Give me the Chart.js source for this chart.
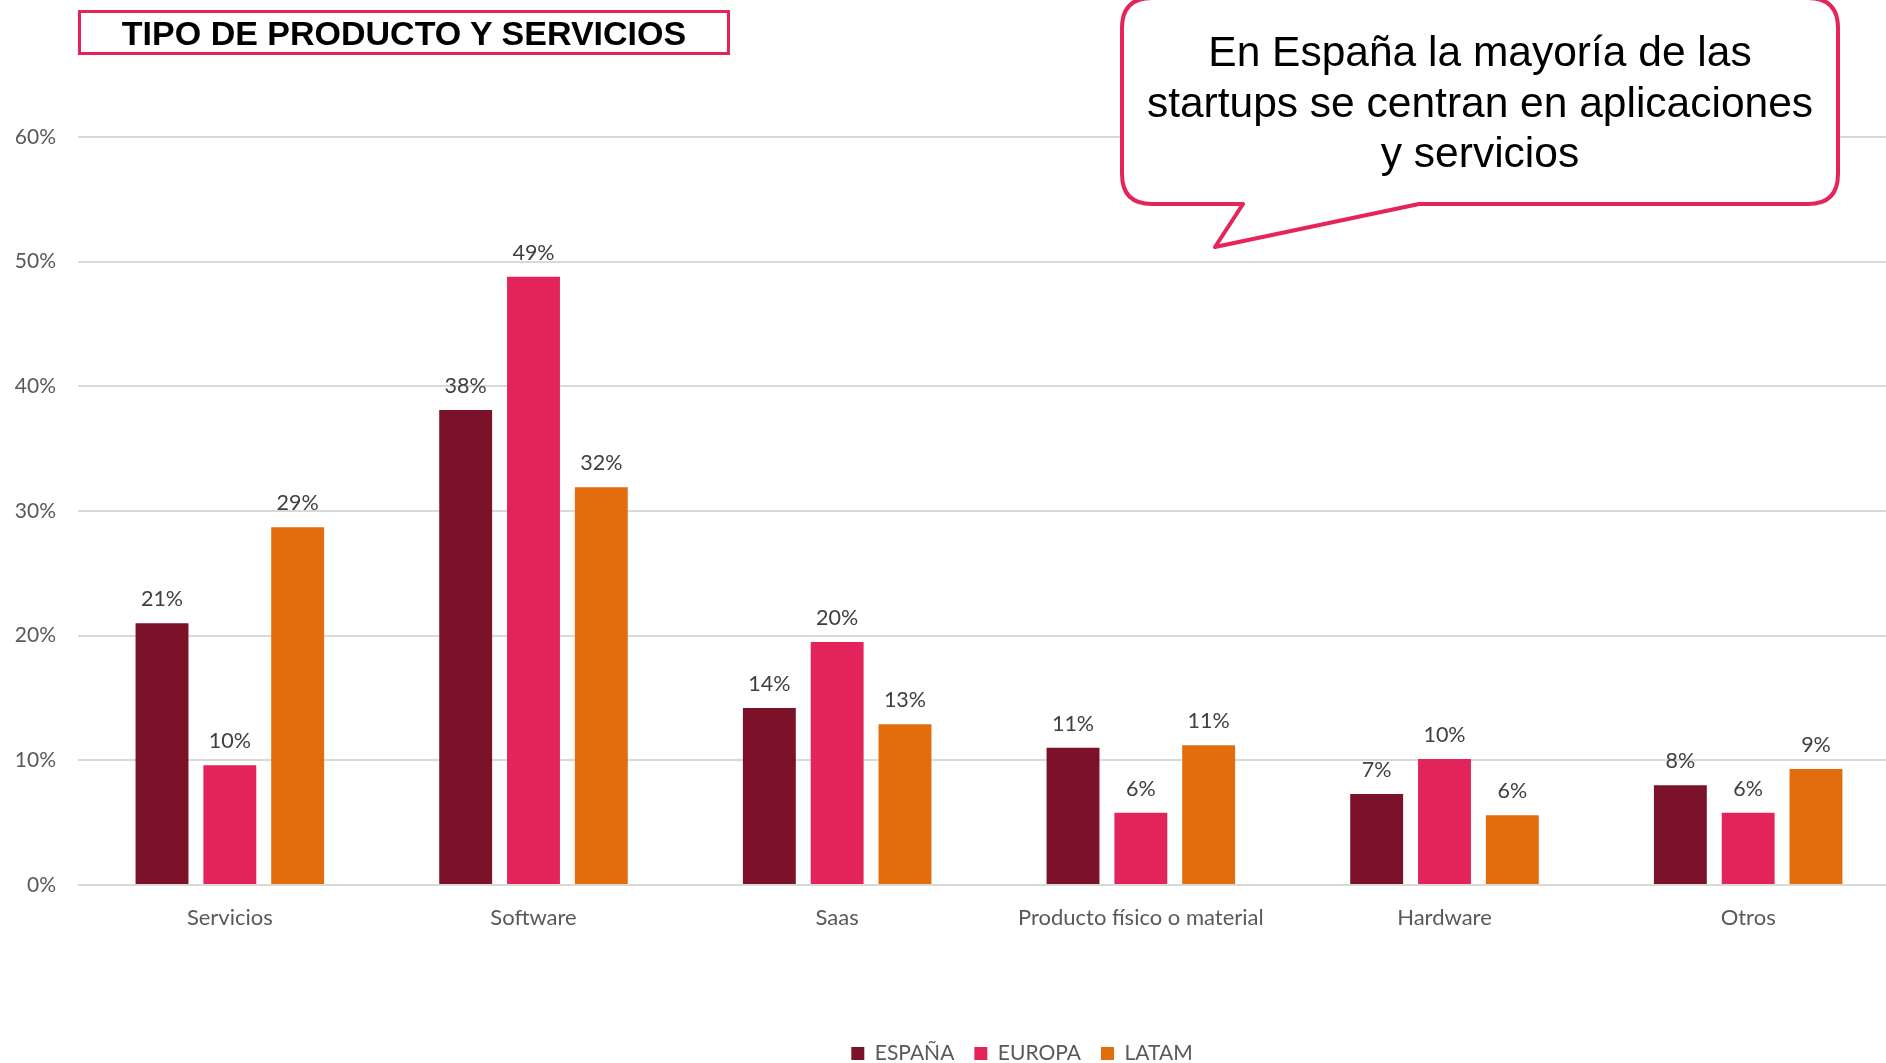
<!DOCTYPE html>
<html>
<head>
<meta charset="utf-8">
<script src="https://cdn.jsdelivr.net/npm/chart.js@4.4.1/dist/chart.umd.min.js"></script>
<style>
  html, body { margin: 0; padding: 0; background: #fff; overflow: hidden; width: 1886px; height: 1063px; }
  #wrap { position: absolute; left: 0; top: 0; width: 1900px; height: 1074px; }
  #title {
    position: absolute; left: 78px; top: 10px; width: 646px; height: 39px;
    border: 3px solid #e5245a; box-sizing: content-box;
    font: bold 34px "Liberation Sans", Arial, sans-serif; color: #000;
    text-align: center; line-height: 41px;
  }
  #bubble { position: absolute; left: 0; top: 0; pointer-events: none; }
  #bubbleText {
    position: absolute; left: 1122px; top: 27px; width: 716px;
    font: 42.5px "Liberation Sans", Arial, sans-serif; color: #000;
    text-align: center; line-height: 50.5px;
  }
</style>
</head>
<body>
<div id="wrap"><canvas id="chart" width="1900" height="1074"></canvas></div>
<div id="title">TIPO DE PRODUCTO Y SERVICIOS</div>
<svg id="bubble" width="1886" height="1063">
  <path d="M1152,-2 L1808,-2 Q1838,-2 1838,28 L1838,174 Q1838,204 1808,204 L1419,204 L1215,247 L1243,204 L1152,204 Q1122,204 1122,174 L1122,28 Q1122,-2 1152,-2 Z"
        fill="#fff" stroke="#e5245a" stroke-width="4" stroke-linejoin="round"/>
</svg>
<div id="bubbleText">En España la mayoría de las<br>startups se centran en aplicaciones<br>y servicios</div>
<script>
const categories = ['Servicios', 'Software', 'Saas', 'Producto físico o material', 'Hardware', 'Otros'];
const seriesNames = ['ESPAÑA', 'EUROPA', 'LATAM'];
const espana = [21.0, 38.1, 14.2, 11.0, 7.3, 8.0];
const europa = [9.6, 48.8, 19.5, 5.8, 10.1, 5.8];
const latam = [28.7, 31.9, 12.9, 11.2, 5.6, 9.3];
const yTicks = [0, 10, 20, 30, 40, 50, 60];
const colors = ['#7b1229', '#e3245a', '#e36c0c'];

const valueLabels = {
  id: 'valueLabels',
  afterDatasetsDraw(chart) {
    const ctx = chart.ctx;
    ctx.save();
    ctx.font = '21.5px Lato, "Open Sans", sans-serif';
    ctx.fillStyle = '#404040';
    ctx.textAlign = 'center';
    ctx.textBaseline = 'middle';
    chart.data.datasets.forEach((ds, i) => {
      chart.getDatasetMeta(i).data.forEach((bar, j) => {
        ctx.fillText(Math.round(ds.data[j]) + '%', bar.x, bar.y - 24);
      });
    });
    ctx.restore();
  }
};

// legend in the original sits a bit right of centre
const legendShift = {
  id: 'legendShift',
  afterLayout(chart) {
    chart.legend.left += 72;
    chart.legend.right += 72;
  }
};

Chart.defaults.font.family = 'Lato, "Open Sans", sans-serif';
Chart.defaults.color = '#595959';

new Chart(document.getElementById('chart'), {
  type: 'bar',
  data: {
    labels: categories,
    datasets: [espana, europa, latam].map((d, i) => ({
      label: seriesNames[i],
      data: d,
      backgroundColor: colors[i],
      borderWidth: 0
    }))
  },
  options: {
    responsive: false,
    devicePixelRatio: 1,
    animation: false,
    categoryPercentage: 0.67,
    barPercentage: 0.78,
    layout: { padding: { top: 137, left: 0, right: 0, bottom: 0 } },
    plugins: {
      tooltip: { enabled: false },
      legend: {
        position: 'bottom',
        labels: { boxWidth: 13, boxHeight: 13, padding: 20, color: '#595959', font: { size: 21 } }
      }
    },
    scales: {
      x: {
        grid: { display: false, drawTicks: false },
        border: { display: false },
        ticks: { padding: 20, color: '#595959', font: { size: 22 } },
        afterFit: s => { s.height = 138; }
      },
      y: {
        min: 0, max: 60,
        afterBuildTicks: s => { s.ticks = yTicks.map(v => ({ value: v })); },
        grid: { color: '#d9d9d9', lineWidth: 2, drawTicks: false },
        border: { display: false },
        ticks: { padding: 22, color: '#595959', font: { size: 21 }, callback: v => v + '%' },
        afterFit: s => { s.width = 78; }
      }
    }
  },
  plugins: [valueLabels, legendShift]
});
</script>
</body>
</html>
